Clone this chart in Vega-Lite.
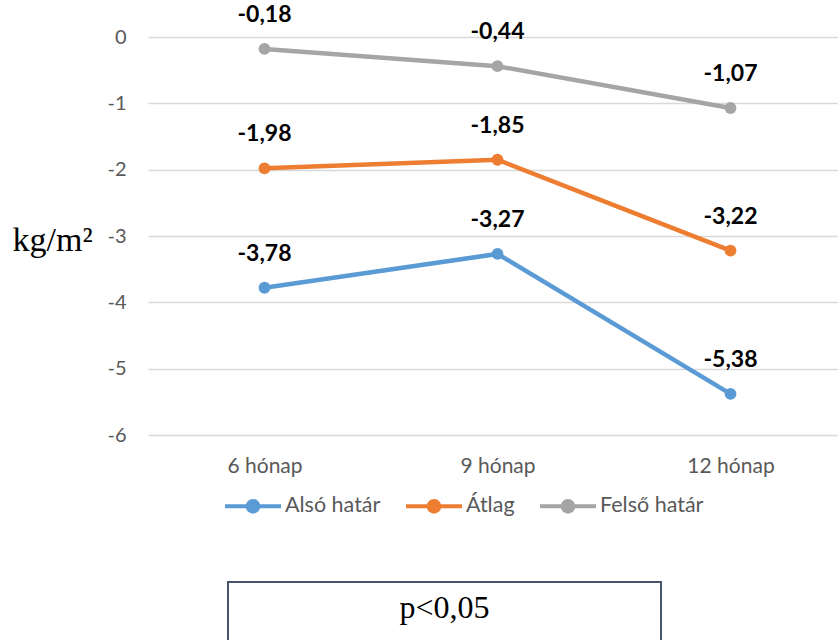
{
  "$schema": "https://vega.github.io/schema/vega-lite/v6.json",
  "autosize": {"type": "pad"},
  "padding": {"left": 12, "top": 3, "right": 0, "bottom": 0},
  "background": "white",
  "bounds": "flush",
  "spacing": 147,
  "config": {
    "view": {"stroke": null},
    "locale": {"number": {"decimal": ",", "thousands": " ", "grouping": [3], "currency": ["", " Ft"], "minus": "-"}}
  },
  "datasets": {
    "adatok": [
      {"ido": "6 hónap", "sorozat": "Alsó határ", "ertek": -3.78},
      {"ido": "9 hónap", "sorozat": "Alsó határ", "ertek": -3.27},
      {"ido": "12 hónap", "sorozat": "Alsó határ", "ertek": -5.38},
      {"ido": "6 hónap", "sorozat": "Átlag", "ertek": -1.98},
      {"ido": "9 hónap", "sorozat": "Átlag", "ertek": -1.85},
      {"ido": "12 hónap", "sorozat": "Átlag", "ertek": -3.22},
      {"ido": "6 hónap", "sorozat": "Felső határ", "ertek": -0.18},
      {"ido": "9 hónap", "sorozat": "Felső határ", "ertek": -0.44},
      {"ido": "12 hónap", "sorozat": "Felső határ", "ertek": -1.07}
    ],
    "megj": [{"szoveg": "p<0,05"}]
  },
  "vconcat": [
    {
      "width": 699,
      "height": 398,
      "data": {"name": "adatok"},
      "encoding": {
        "x": {
          "field": "ido", "type": "ordinal",
          "sort": ["6 hónap", "9 hónap", "12 hónap"],
          "scale": {"type": "point", "padding": 0.5},
          "axis": {"title": null, "domain": false, "ticks": false, "labelPadding": 20, "labelFont": "Lato", "labelFontSize": 21, "labelColor": "#595959", "labelAngle": 0, "grid": false}
        },
        "y": {
          "field": "ertek", "type": "quantitative",
          "scale": {"domain": [-6, 0], "nice": false, "zero": false},
          "axis": {
            "values": [0, -1, -2, -3, -4, -5, -6], "format": "d",
            "domain": false, "ticks": false, "labelPadding": 22,
            "labelFont": "Lato", "labelFontSize": 20, "labelColor": "#595959",
            "gridColor": "#D9D9D9", "gridWidth": 1.5,
            "title": "kg/m²", "titleAngle": 0, "titleFont": "Liberation Serif", "titleFontSize": 34,
            "titleFontWeight": "normal", "titleColor": "black",
            "titleX": -136, "titleY": 213, "titleAlign": "left", "titleBaseline": "alphabetic"
          }
        },
        "color": {
          "field": "sorozat", "type": "nominal",
          "scale": {"domain": ["Alsó határ", "Átlag", "Felső határ"], "range": ["#5B9BD5", "#ED7D31", "#A5A5A5"]},
          "legend": {
            "title": null, "orient": "none", "legendX": 77, "legendY": 441, "direction": "horizontal",
            "symbolType": "M-1,-0.07 L1,-0.07 L1,0.07 L-1,0.07 Z M-0.26,0 A0.26,0.26 0 1,1 0.26,0 A0.26,0.26 0 1,1 -0.26,0 Z",
            "symbolSize": 3136, "symbolStrokeWidth": 0,
            "labelFont": "Lato", "labelFontSize": 21.5, "labelColor": "#595959", "labelOffset": 4,
            "columnPadding": 25, "padding": 0,
            "encode": {"symbols": {"update": {"fill": {"scale": "color", "field": "value"}, "opacity": {"value": 1}, "strokeWidth": {"value": 0}}}}
          }
        }
      },
      "layer": [
        {"mark": {"type": "line", "strokeWidth": 4.5}},
        {"mark": {"type": "point", "filled": true, "size": 140, "opacity": 1}},
        {
          "mark": {"type": "text", "dy": -34, "fontSize": 23, "fontWeight": "bold", "font": "Lato", "baseline": "middle"},
          "encoding": {"text": {"field": "ertek", "type": "quantitative", "format": ".2f"}, "color": {"value": "black"}}
        }
      ]
    },
    {
      "bounds": "flush",
      "spacing": 0,
      "hconcat": [
        {
          "width": 80, "height": 80,
          "data": {"values": [{}]},
          "mark": {"type": "text", "text": ""},
          "view": {"stroke": null}
        },
        {
          "width": 433, "height": 80,
          "data": {"name": "megj"},
          "mark": {"type": "text", "font": "Liberation Serif", "fontSize": 32, "baseline": "middle", "dy": -14, "color": "black"},
          "encoding": {"text": {"field": "szoveg", "type": "nominal"}},
          "view": {"stroke": "#44546A", "strokeWidth": 2}
        }
      ]
    }
  ]
}
